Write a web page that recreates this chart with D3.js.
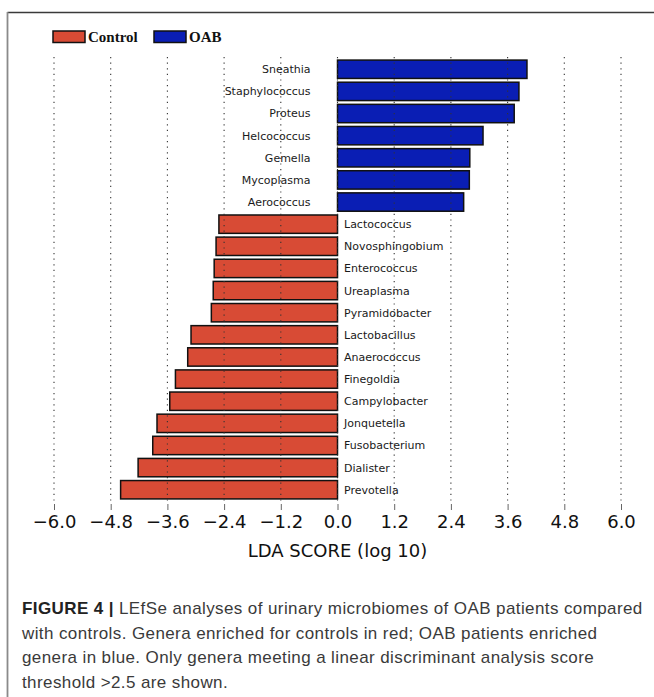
<!DOCTYPE html>
<html>
<head>
<meta charset="utf-8">
<script src="https://cdn.jsdelivr.net/npm/d3@7/dist/d3.min.js"></script>
<style>
  html, body { margin: 0; padding: 0; background: #fff; }
  svg { display: block; }
</style>
</head>
<body>
<svg id="fig" width="654" height="697"></svg>
<script>
// Genera listed top to bottom, with their signed LDA scores (log 10)
const genera = [
  "Sneathia", "Staphylococcus", "Proteus", "Helcococcus", "Gemella", "Mycoplasma", "Aerococcus",
  "Lactococcus", "Novosphingobium", "Enterococcus", "Ureaplasma", "Pyramidobacter",
  "Lactobacillus", "Anaerococcus", "Finegoldia", "Campylobacter", "Jonquetella",
  "Fusobacterium", "Dialister", "Prevotella"
];
const ldaScores = [
  4.01, 3.84, 3.74, 3.08, 2.80, 2.79, 2.67,
  -2.51, -2.57, -2.61, -2.63, -2.67,
  -3.10, -3.17, -3.43, -3.55, -3.82,
  -3.91, -4.22, -4.59
];
const groups = ["Control", "OAB"];
const groupColors = ["#d84b35", "#0a1eb4"];
const tickValues = [-6.0, -4.8, -3.6, -2.4, -1.2, 0.0, 1.2, 2.4, 3.6, 4.8, 6.0];
const tickLabels = ["\u22126.0", "\u22124.8", "\u22123.6", "\u22122.4", "\u22121.2", "0.0", "1.2", "2.4", "3.6", "4.8", "6.0"];
const axisTitle = "LDA SCORE (log 10)";
const captionLines = [
  [["FIGURE 4 | ", true], ["LEfSe analyses of urinary microbiomes of OAB patients compared", false]],
  [["with controls. Genera enriched for controls in red; OAB patients enriched", false]],
  [["genera in blue. Only genera meeting a linear discriminant analysis score", false]],
  [["threshold >2.5 are shown.", false]]
];

const svg = d3.select("#fig");

// Outer figure frame (top and left rules)
svg.append("line").attr("x1", 7.5).attr("x2", 654).attr("y1", 12.5).attr("y2", 12.5)
  .attr("stroke", "#3a3a3a").attr("stroke-width", 1.6);
svg.append("line").attr("x1", 7.5).attr("x2", 7.5).attr("y1", 12).attr("y2", 697)
  .attr("stroke", "#8a8a8a").attr("stroke-width", 1.8);

const x = d3.scaleLinear().domain([-6, 6]).range([54, 621]);
const y = d3.scaleBand().domain(genera).range([58.2, 500.8]).paddingInner(0.17).paddingOuter(0.085);
const color = d3.scaleOrdinal().domain(groups).range(groupColors);
const groupOf = v => (v < 0 ? "Control" : "OAB");

const rows = genera.map((g, i) => ({ name: g, value: ldaScores[i], group: groupOf(ldaScores[i]) }));

// Bars
svg.append("g").selectAll("rect").data(rows).join("rect")
  .attr("x", d => x(Math.min(0, d.value)))
  .attr("y", d => y(d.name))
  .attr("width", d => Math.abs(x(d.value) - x(0)))
  .attr("height", y.bandwidth())
  .attr("fill", d => color(d.group))
  .attr("stroke", "#111")
  .attr("stroke-width", 1.5);

// Dotted vertical grid, drawn over the bars
const plotTop = 57, plotBottom = 502;
svg.append("g").selectAll("line").data(tickValues).join("line")
  .attr("x1", d => x(d)).attr("x2", d => x(d))
  .attr("y1", plotTop).attr("y2", plotBottom)
  .attr("stroke", "#333").attr("stroke-width", 1.1)
  .attr("stroke-dasharray", "1.2,4.4");

// Genus labels beside the zero line
svg.append("g").selectAll("text").data(rows).join("text")
  .attr("x", d => d.value > 0 ? x(0) - 27 : x(0) + 6.5)
  .attr("y", d => y(d.name) + y.bandwidth() / 2)
  .attr("dy", "0.36em")
  .attr("text-anchor", d => d.value > 0 ? "end" : "start")
  .attr("font-family", "DejaVu Sans, sans-serif")
  .attr("font-size", 11)
  .attr("fill", "#1a1a1a")
  .text(d => d.name);

// Bottom axis
const axis = d3.axisBottom(x)
  .tickValues(tickValues)
  .tickFormat((d, i) => tickLabels[i])
  .tickSize(6)
  .tickPadding(5);
const ax = svg.append("g").attr("transform", `translate(0,${plotBottom + 2})`).call(axis);
ax.select(".domain").remove();
ax.selectAll(".tick line").attr("stroke", "#666").attr("stroke-width", 1);
ax.selectAll(".tick text")
  .attr("font-family", "DejaVu Sans, sans-serif")
  .attr("font-size", 18)
  .attr("fill", "#111");

svg.append("text")
  .attr("x", x(0)).attr("y", 557)
  .attr("text-anchor", "middle")
  .attr("font-family", "DejaVu Sans, sans-serif")
  .attr("font-size", 18)
  .attr("fill", "#111")
  .text(axisTitle);

// Legend
const legend = svg.append("g");
const legendX = [53, 154];
groups.forEach((g, i) => {
  legend.append("rect")
    .attr("x", legendX[i]).attr("y", 31)
    .attr("width", 32).attr("height", 11.5)
    .attr("fill", color(g)).attr("stroke", "#111").attr("stroke-width", 1.5);
  legend.append("text")
    .attr("x", legendX[i] + 35).attr("y", 42)
    .attr("font-family", "Liberation Serif, Times New Roman, serif")
    .attr("font-weight", "bold")
    .attr("font-size", 15)
    .attr("fill", "#111")
    .text(g);
});

// Caption
const cap = svg.append("g");
captionLines.forEach((line, i) => {
  const t = cap.append("text")
    .attr("x", 22).attr("y", 614 + i * 24.6)
    .attr("font-family", "Liberation Sans, Arial, sans-serif")
    .attr("font-size", 17)
    .attr("letter-spacing", "0.4px");
  line.forEach(([str, bold]) => {
    t.append("tspan")
      .attr("font-weight", bold ? "bold" : "normal")
      .attr("fill", bold ? "#222" : "#3a3a3a")
      .text(str);
  });
});
</script>
</body>
</html>
